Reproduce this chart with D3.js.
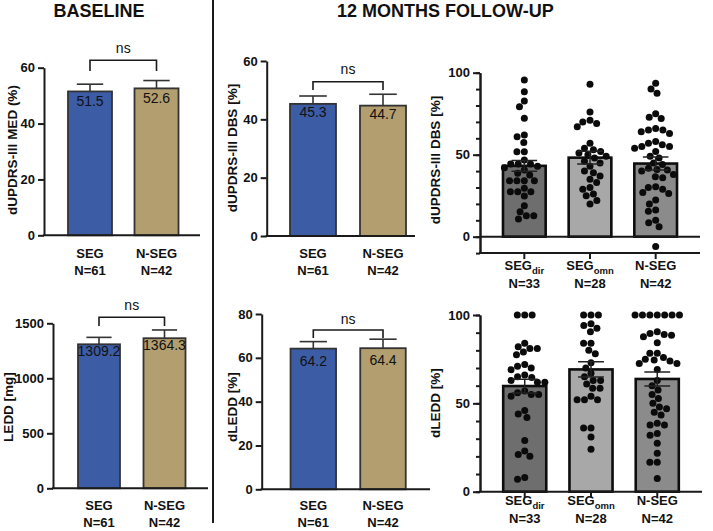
<!DOCTYPE html>
<html><head><meta charset="utf-8">
<script src="https://cdn.jsdelivr.net/npm/d3@7"></script>
<style>body{margin:0;background:#fff} svg{display:block} text{font-family:"Liberation Sans",Arial,sans-serif;fill:#111}</style>
</head><body><svg id="c" width="713" height="531"></svg>
<script>
// ---------- DATA ----------
const groups2 = ["SEG", "N-SEG"];
const groupN2 = ["N=61", "N=42"];
const medBaseline = [51.5, 52.6];
const medBaselineSem = [2.6, 2.8];
const leddBaseline = [1309.2, 1364.3];
const leddBaselineSem = [63, 75];
const dbs12 = [45.3, 44.7];
const dbs12Sem = [2.7, 3.9];
const dledd12 = [64.2, 64.4];
const dledd12Sem = [3.2, 4.1];

const groups3 = ["SEG|dir", "SEG|omn", "N-SEG"];
const groupN3 = ["N=33", "N=28", "N=42"];
const dbsMeans3 = [43.2, 48.2, 44.6];
const dbsSems3 = [3.3, 3.9, 4.0];
const dbsDir = [95.5, 88.4, 82.7, 79.3, 72.2, 62, 61, 57.5, 51.8, 51.8, 46.8, 44.3, 44.3, 44.3, 43, 42, 40.7, 38.7, 37.6, 34.1, 34.1, 34.1, 34.1, 29.5, 27.4, 27.4, 27.4, 24.8, 18.9, 15.2, 12.8, 12.8, 10.8];
const dbsOmn = [93, 76, 71, 70, 69, 67, 57, 54, 53, 52, 51, 50, 49, 48, 46, 45, 43, 40, 39, 37, 35, 33, 30, 29, 26, 25, 22, 20];
const dbsNseg = [93.5, 90, 87.4, 75, 72.8, 72, 66, 65, 65, 64, 63, 58, 57, 56, 55, 55, 54, 52, 49, 48, 45, 44, 41.7, 41, 40.6, 40, 38, 36.6, 36, 30.5, 30, 29, 27, 26.4, 22.4, 20, 16.3, 15.5, 10, 8.5, 6, -6];

const dleddMeans3 = [59.8, 69.2, 63.8];
const dleddSems3 = [3.9, 4.3, 4.0];
const dleddDir = [100, 100, 100, 84, 82, 81, 81, 79, 77.5, 72, 70, 69, 71, 66, 65, 64.7, 63, 62, 62, 56, 55, 55, 54, 57, 46, 44, 42, 29, 23, 21, 20, 8, 7];
const dleddOmn = [100, 100, 100, 95, 94, 92.5, 90.5, 84, 84, 80, 78, 73, 70, 67, 65, 63, 63, 61, 58.5, 58.5, 54, 52, 52, 52, 36, 36, 31, 24];
const dleddNseg = [100, 100, 100, 100, 100, 100, 100, 90.5, 89.6, 89, 88.5, 87.7, 84.3, 78.3, 78.3, 76, 75, 74.5, 74, 72.6, 72.6, 69.2, 63, 60, 57.5, 55, 52.8, 50, 48, 47, 45, 43.4, 38.7, 37.7, 37.7, 33, 32, 27.4, 21.7, 16.6, 16.6, 7.5];

const sigLabel = "ns";
const titles = ["BASELINE", "12 MONTHS FOLLOW-UP"];

// ---------- DRAW ----------
const svg = d3.select("#c");
const INK = "#1a1a1a";
const colors2 = ["#3d5ca6", "#b39e6f"];
const colors3 = ["#6e6e6e", "#a8a8a8", "#8b8b8b"];

svg.append("text").attr("x", 99).attr("y", 17).attr("text-anchor", "middle")
  .attr("font-size", 18).attr("font-weight", "bold").text(titles[0]);
svg.append("text").attr("x", 337).attr("y", 17).attr("text-anchor", "start")
  .attr("font-size", 18).attr("font-weight", "bold").text(titles[1]);
svg.append("line").attr("x1", 213).attr("x2", 213).attr("y1", 0).attr("y2", 523)
  .attr("stroke", INK).attr("stroke-width", 2);

function styleAxis(a) {
  a.select(".domain").attr("stroke", INK).attr("stroke-width", 2);
  a.selectAll(".tick line").attr("stroke", INK).attr("stroke-width", 2);
  a.selectAll(".tick text").attr("font-size", 13).attr("font-weight", "bold")
    .attr("font-family", "'Liberation Sans',Arial,sans-serif").attr("fill", "#111");
}

function yLabel(g, text, xc, yc) {
  g.append("text").attr("transform", `translate(${xc + 5},${yc}) rotate(-90)`)
    .attr("text-anchor", "middle").attr("font-size", 13.5).attr("font-weight", "bold").text(text);
}

function leftPanel(o) {
  const g = svg.append("g");
  const y = d3.scaleLinear().domain(o.domain).range(o.yRange);
  const x = d3.scalePoint().domain(groups2).range(o.centers);
  g.selectAll("rect").data(o.means).join("rect")
    .attr("x", (d, i) => x(groups2[i]) - o.bw / 2).attr("y", d => y(d))
    .attr("width", o.bw).attr("height", d => y(0) - y(d))
    .attr("fill", (d, i) => colors2[i]).attr("stroke", "#333").attr("stroke-width", 1.8);
  const cap = o.bw * 0.3;
  o.means.forEach((m, i) => {
    const cx = x(groups2[i]), top = y(m + o.sems[i]);
    g.append("line").attr("x1", cx).attr("x2", cx).attr("y1", y(m)).attr("y2", top)
      .attr("stroke", "#333").attr("stroke-width", 1.6);
    g.append("line").attr("x1", cx - cap).attr("x2", cx + cap).attr("y1", top).attr("y2", top)
      .attr("stroke", "#333").attr("stroke-width", 1.6);
    g.append("text").attr("x", cx).attr("y", y(m) + o.valOff).attr("text-anchor", "middle")
      .attr("font-size", 14).attr("fill", "#151515").text(o.fmt(m));
    g.append("text").attr("x", cx).attr("y", o.row1).attr("text-anchor", "middle")
      .attr("font-size", 13).attr("font-weight", "bold").text(groups2[i]);
    g.append("text").attr("x", cx).attr("y", o.row2).attr("text-anchor", "middle")
      .attr("font-size", 13).attr("font-weight", "bold").text(groupN2[i]);
  });
  const a = g.append("g").attr("transform", `translate(${o.axisX},0)`)
    .call(d3.axisLeft(y).tickValues(o.ticks).tickFormat(d3.format("d")).tickSize(6).tickPadding(3).tickSizeOuter(0));
  styleAxis(a);
  g.append("line").attr("x1", o.axisX - 1).attr("x2", o.axisEnd).attr("y1", y(0)).attr("y2", y(0))
    .attr("stroke", INK).attr("stroke-width", 2);
  // bracket
  const c0 = x(groups2[0]), c1 = x(groups2[1]);
  g.append("path").attr("d", `M${c0},${o.brBot}V${o.brTop}H${c1}V${o.brBot}`)
    .attr("fill", "none").attr("stroke", INK).attr("stroke-width", 1.6);
  g.append("text").attr("x", (c0 + c1) / 2).attr("y", o.nsY).attr("text-anchor", "middle")
    .attr("font-size", 14).text(sigLabel);
  yLabel(g, o.label, o.labX, o.labY);
}

leftPanel({domain: [0, 60], yRange: [235.3, 67.7], centers: [90, 156.5], bw: 44, means: medBaseline, sems: medBaselineSem,
  ticks: [0, 20, 40, 60], axisX: 44, axisEnd: 200, row1: 258, row2: 275, brTop: 60.3, brBot: 71, nsY: 53,
  valOff: 15, fmt: d3.format(".1f"), label: "dUPDRS-III MED (%)", labX: 12, labY: 150});
leftPanel({domain: [0, 1500], yRange: [488.3, 323.3], centers: [99, 164.5], bw: 42, means: leddBaseline, sems: leddBaselineSem,
  ticks: [0, 500, 1000, 1500], axisX: 53, axisEnd: 208, row1: 510, row2: 526.5, brTop: 317.3, brBot: 326, nsY: 310,
  valOff: 12, fmt: d3.format(".1f"), label: "LEDD [mg]", labX: 8, labY: 407});
leftPanel({domain: [0, 60], yRange: [236, 61], centers: [313, 383], bw: 46, means: dbs12, sems: dbs12Sem,
  ticks: [0, 20, 40, 60], axisX: 266.7, axisEnd: 415, row1: 258, row2: 275, brTop: 81.7, brBot: 90, nsY: 74,
  valOff: 13, fmt: d3.format(".1f"), label: "dUPDRS-III DBS [%]", labX: 232, labY: 148});
leftPanel({domain: [0, 80], yRange: [489.3, 314], centers: [313.3, 383], bw: 45.5, means: dledd12, sems: dledd12Sem,
  ticks: [0, 20, 40, 60, 80], axisX: 261.7, axisEnd: 430, row1: 510, row2: 526.5, brTop: 330, brBot: 338, nsY: 324,
  valOff: 17, fmt: d3.format(".1f"), label: "dLEDD [%]", labX: 232, labY: 407});

// beeswarm layout for dots
function swarm(values, y, r) {
  const pts = values.map(v => ({v, y: y(v)})).sort((a, b) => a.y - b.y);
  const placed = [], d = 2 * r + 0.4;
  for (const p of pts) {
    const cands = [0];
    for (const q of placed) {
      const dy = Math.abs(q.y - p.y);
      if (dy < d) { const dx = Math.sqrt(d * d - dy * dy); cands.push(q.dx + dx, q.dx - dx); }
    }
    cands.sort((a, b) => Math.abs(a) - Math.abs(b) || a - b);
    for (const c of cands) {
      if (placed.every(q => (q.dx - c) ** 2 + (q.y - p.y) ** 2 >= d * d - 1e-6)) { p.dx = c; break; }
    }
    placed.push(p);
  }
  return placed;
}

function rightPanel(o) {
  const g = svg.append("g");
  const y = d3.scaleLinear().domain(o.domain).range(o.yRange);
  const x = d3.scaleBand().domain(groups3).range([o.axisX, o.axisEnd]).paddingInner(0.35).paddingOuter(0.35);
  const bw = x.bandwidth();
  g.selectAll("rect").data(o.means).join("rect")
    .attr("x", (d, i) => x(groups3[i])).attr("y", d => y(d))
    .attr("width", bw).attr("height", d => y(0) - y(d))
    .attr("fill", (d, i) => colors3[i]).attr("stroke", "#0d0d0d").attr("stroke-width", 2.6);
  o.points.forEach((vals, i) => {
    const cx = x(groups3[i]) + bw / 2;
    g.selectAll(null).data(swarm(vals, y, 3.5)).join("circle")
      .attr("cx", d => cx + d.dx).attr("cy", d => d.y).attr("r", 3.5).attr("fill", "#0b0b0b");
  });
  const cap = bw * 0.3;
  o.means.forEach((m, i) => {
    const cx = x(groups3[i]) + bw / 2, hi = y(m + o.sems[i]), lo = y(m - o.sems[i]);
    g.append("path").attr("d", `M${cx - cap},${hi}H${cx + cap}M${cx},${hi}V${lo}M${cx - cap},${lo}H${cx + cap}`)
      .attr("fill", "none").attr("stroke", "#222").attr("stroke-width", 1.5);
    const [main, sub] = groups3[i].split("|");
    const t = g.append("text").attr("x", cx).attr("y", o.row1).attr("text-anchor", "middle")
      .attr("font-size", 13).attr("font-weight", "bold");
    t.append("tspan").text(main);
    if (sub) t.append("tspan").attr("dy", 4).attr("font-size", 9.5).text(sub);
    g.append("text").attr("x", cx).attr("y", o.row2).attr("text-anchor", "middle")
      .attr("font-size", 13).attr("font-weight", "bold").text(groupN3[i]);
    g.append("line").attr("x1", cx).attr("x2", cx).attr("y1", y(o.domain[0])).attr("y2", y(o.domain[0]) + 6)
      .attr("stroke", INK).attr("stroke-width", 2);
  });
  const minor = g.append("g").attr("transform", `translate(${o.axisX},0)`)
    .call(d3.axisLeft(y).tickValues(d3.range(o.domain[0], o.domain[1] + 1, 10)).tickSize(4).tickFormat("").tickSizeOuter(0));
  styleAxis(minor);
  const a = g.append("g").attr("transform", `translate(${o.axisX},0)`)
    .call(d3.axisLeft(y).tickValues([0, 50, 100]).tickSize(7).tickPadding(3).tickSizeOuter(0));
  styleAxis(a);
  g.append("line").attr("x1", o.axisX - 1).attr("x2", o.axisEnd).attr("y1", y(o.domain[0])).attr("y2", y(o.domain[0]))
    .attr("stroke", INK).attr("stroke-width", 2);
  if (o.domain[0] < 0) {
    g.append("line").attr("x1", o.axisX).attr("x2", o.axisEnd).attr("y1", y(0)).attr("y2", y(0))
      .attr("stroke", INK).attr("stroke-width", 2);
  }
  yLabel(g, o.label, o.labX, o.labY);
}

rightPanel({domain: [-10, 100], yRange: [253.1, 72.7], axisX: 480, axisEnd: 700, means: dbsMeans3, sems: dbsSems3,
  points: [dbsDir, dbsOmn, dbsNseg], row1: 270, row2: 288, label: "dUPDRS-III DBS [%]", labX: 435, labY: 160});
rightPanel({domain: [0, 100], yRange: [491.7, 315], axisX: 480, axisEnd: 702, means: dleddMeans3, sems: dleddSems3,
  points: [dleddDir, dleddOmn, dleddNseg], row1: 505, row2: 523, label: "dLEDD [%]", labX: 435, labY: 403});
</script></body></html>
